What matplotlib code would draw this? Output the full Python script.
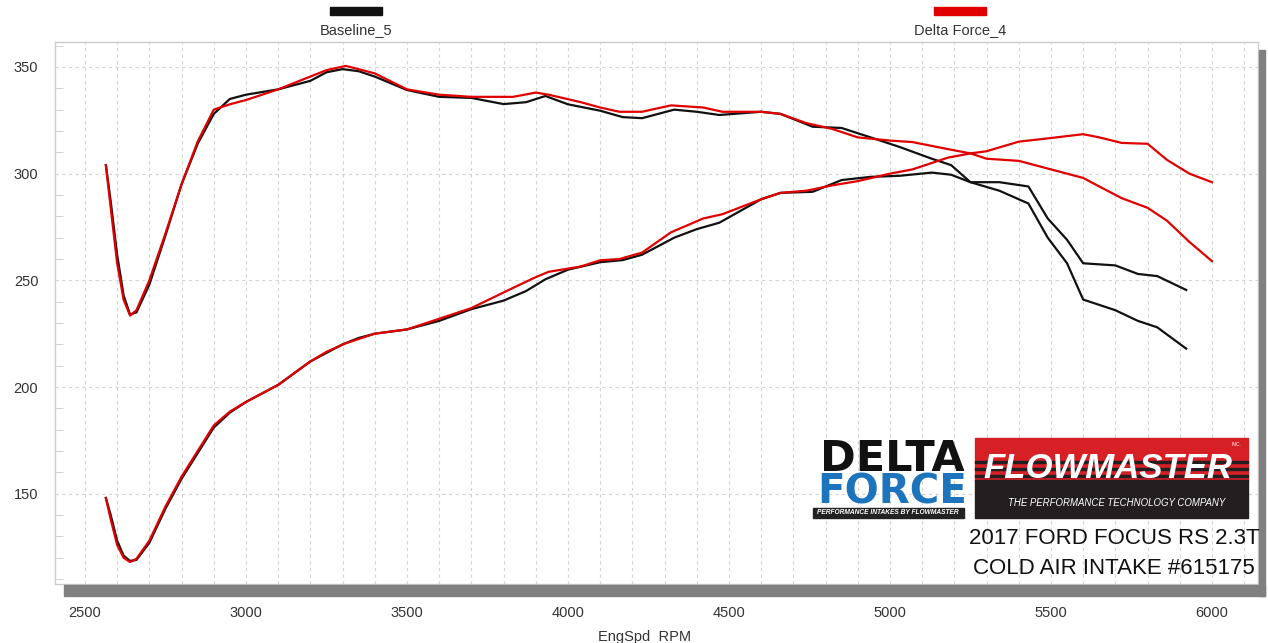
import matplotlib.pyplot as plt
from matplotlib.patches import Rectangle

plt.rcParams['font.family'] = ['Liberation Sans', 'DejaVu Sans']

# dyno run: Baseline_5
base_rpm = [2565, 2580, 2600, 2620, 2640, 2660, 2700, 2750, 2800, 2850, 2900, 2950,
            3000, 3100, 3200, 3250, 3300, 3350, 3400, 3500, 3600, 3700, 3800, 3870,
            3930, 4000, 4100, 4170, 4230, 4330, 4400, 4470, 4600, 4660, 4760, 4850,
            4940, 5030, 5130, 5190, 5250, 5340, 5430, 5490, 5550, 5600, 5700, 5770,
            5830, 5920]
base_tq = [304, 287, 262, 243, 234, 235, 248, 271, 295, 314, 328, 335,
           337, 339.5, 343.5, 347.5, 349, 348, 345.5, 339.2, 336, 335.5, 332.6, 333.5,
           336.4, 332.5, 329.5, 326.5, 326, 330, 329, 327.5, 329, 328, 322, 321.4,
           317, 312.5, 307, 304, 296, 292, 286, 270, 258, 241, 236, 231,
           228, 218]
base_hp = [148, 140, 128, 121, 118.5, 119, 127, 143, 157, 169, 181, 188,
           193, 201, 212, 216, 220, 223, 225, 227, 231, 236.5, 240.5, 245,
           250.5, 255, 258.5, 259.5, 262, 270, 274, 277, 288, 291, 291.5, 297,
           298.5, 299, 300.5, 299.5, 296, 296, 294, 279, 269, 258, 257, 253,
           252, 245.5]

# dyno run: Delta Force_4
df_rpm = [2565, 2580, 2600, 2620, 2640, 2660, 2700, 2750, 2800, 2850, 2900, 2950,
          3000, 3100, 3200, 3250, 3310, 3400, 3500, 3600, 3700, 3830, 3900, 3940,
          4040, 4100, 4160, 4230, 4320, 4420, 4480, 4600, 4660, 4740, 4820, 4900,
          5000, 5070, 5180, 5250, 5300, 5400, 5500, 5600, 5650, 5720, 5800, 5860,
          5930, 6000]
df_tq = [304, 284, 258, 241, 233.5, 236, 250, 272, 295, 315, 330, 332.5,
         334.5, 339.5, 345.5, 348.5, 350.5, 347, 339.5, 337, 336, 336, 338, 337,
         333.5, 331, 329, 329, 332, 331, 329, 329, 328, 323.7, 321, 317,
         315.5, 314.8, 311.5, 309.5, 307, 306, 302, 298, 294, 288.5, 284, 278,
         268, 259]
df_hp = [148, 138, 126, 120, 118, 119.5, 128, 144, 158, 170, 182, 188.5,
         193, 201, 212, 216.5, 220.5, 225, 227, 232, 237, 246.5, 251.5, 254,
         256.5, 259.4, 260, 263, 272.5, 279, 281, 288, 291, 292, 294.5, 296.5,
         300, 302, 307.5, 309.5, 310.5, 315, 316.7, 318.5, 317, 314.4, 314, 306.5,
         300, 296]

run_names = ['Baseline_5', 'Delta Force_4']
run_colors = ['#111111', '#e00000']
x_ticks = [2500, 3000, 3500, 4000, 4500, 5000, 5500, 6000]
y_ticks = [150, 200, 250, 300, 350]

W, H = 1268, 643
fig = plt.figure(figsize=(W / 100, H / 100), dpi=100)
ax = fig.add_axes([55 / W, 1 - 584 / H, (1258 - 55) / W, (584 - 42) / H])

ax.plot(base_rpm, base_tq, color=run_colors[0], lw=1.6, zorder=3)
ax.plot(base_rpm, base_hp, color=run_colors[0], lw=1.6, zorder=3)
ax.plot(df_rpm, df_tq, color=run_colors[1], lw=1.6, zorder=4)
ax.plot(df_rpm, df_hp, color=run_colors[1], lw=1.6, zorder=4)

ax.set_xlim(2407, 6143)
ax.set_ylim(107.7, 361.7)
ax.set_xticks(x_ticks)
ax.set_xticks(range(2500, 6101, 100), minor=True)
ax.set_yticks(y_ticks)
ax.set_yticks(range(110, 361, 10), minor=True)
ax.grid(True, which='minor', axis='x', color='#d4d4d4', ls=(0, (3, 3)), lw=0.8)
ax.grid(True, which='major', axis='both', color='#d4d4d4', ls=(0, (3, 3)), lw=0.8)
ax.tick_params(axis='x', which='both', length=0, labelsize=10.5, labelcolor='#333333', pad=16)
ax.tick_params(axis='y', which='major', length=0, labelsize=10.5, labelcolor='#333333', pad=12)
ax.tick_params(axis='y', which='minor', direction='in', length=6, color='#cccccc')
for s in ax.spines.values():
    s.set_color('#cccccc')
    s.set_linewidth(1)
ax.set_xlabel('EngSpd  RPM', fontsize=10.5, color='#333333', labelpad=1)
ax.xaxis.set_label_coords(0.49, -0.085)

# overlay in pixel coords for frame shadow, legend and logos
ov = fig.add_axes([0, 0, 1, 1], zorder=5)
ov.set_xlim(0, W)
ov.set_ylim(H, 0)
ov.axis('off')
ov.patch.set_alpha(0)
ov.add_patch(Rectangle((64, 585), 1201, 11, color='#808080'))
ov.add_patch(Rectangle((1259, 50), 6, 546, color='#808080'))

# legend at top
for name, col, cx in zip(run_names, run_colors, [356, 960]):
    ov.add_patch(Rectangle((cx - 26, 7), 52, 8, color=col))
    ov.text(cx, 30, name, ha='center', va='center', fontsize=10.5, color='#333333')

# Delta Force logo
ov.text(892, 459, 'DELTA', ha='center', va='center', fontsize=31, fontweight='bold',
        family='DejaVu Sans', color='#111111')
ov.text(892, 492, 'FORCE', ha='center', va='center', fontsize=29, fontweight='bold',
        family='DejaVu Sans', color='#1c75bc')
ov.add_patch(Rectangle((813, 508), 151, 10, color='#222222'))
ov.text(888, 513, 'PERFORMANCE INTAKES BY FLOWMASTER', ha='center', va='center',
        fontsize=4.8, fontweight='bold', style='italic', color='white')

# Flowmaster logo
ov.add_patch(Rectangle((975, 438), 273, 43, color='#d71f26'))
ov.add_patch(Rectangle((975, 480), 273, 38, color='#231f20'))
for yy in [461, 468, 475]:
    ov.add_patch(Rectangle((975, yy), 273, 2, color='#231f20'))
ov.text(1108, 469, 'FLOWMASTER', ha='center', va='center', fontsize=25, fontweight='bold',
        style='italic', color='white')
ov.text(1236, 445, 'INC.', ha='center', va='center', fontsize=3.5, color='white')
ov.text(1117, 503, 'THE PERFORMANCE TECHNOLOGY COMPANY', ha='center', va='center',
        fontsize=6.9, style='italic', color='white')

ov.text(1114, 538, '2017 FORD FOCUS RS 2.3T', ha='center', va='center', fontsize=16,
        color='#111111')
ov.text(1114, 569, 'COLD AIR INTAKE #615175', ha='center', va='center', fontsize=16,
        color='#111111')

fig.savefig('out.png', dpi=100)
